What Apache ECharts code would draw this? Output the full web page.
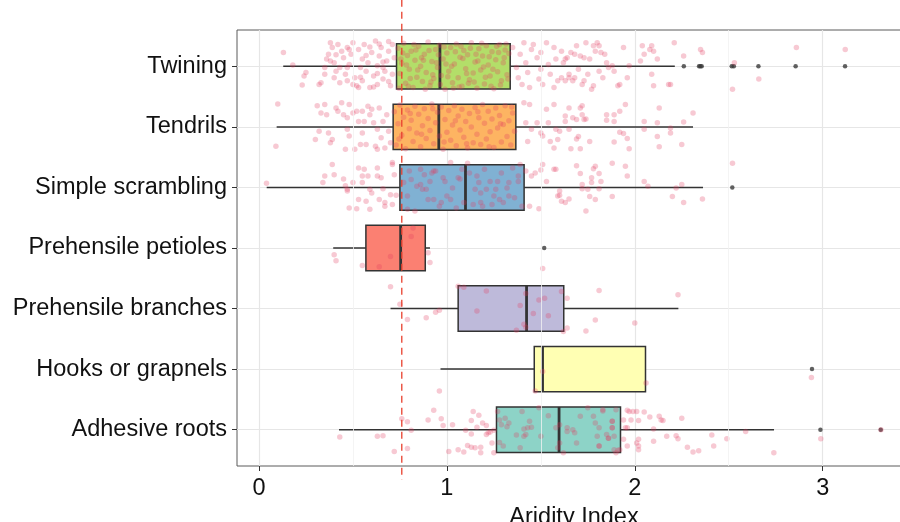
<!DOCTYPE html>
<html>
<head>
<meta charset="utf-8">
<script src="https://cdn.jsdelivr.net/npm/echarts@6/dist/echarts.min.js"></script>
<style>
  html, body { margin: 0; padding: 0; background: #fff; }
  #chart { width: 900px; height: 522px; }
</style>
</head>
<body>
<div id="chart"></div>
<script>
// categories from bottom (1) to top (7)
const categories = ['Adhesive roots', 'Hooks or grapnels', 'Prehensile branches', 'Prehensile petioles', 'Simple scrambling', 'Tendrils', 'Twining'];
const boxLow    = [0.426, 0.966, 0.700, 0.395, 0.041, 0.094, 0.129];
const boxQ1     = [1.264, 1.465, 1.060, 0.569, 0.750, 0.714, 0.732];
const boxMedian = [1.597, 1.509, 1.424, 0.754, 1.099, 0.957, 0.963];
const boxQ3     = [1.924, 2.057, 1.622, 0.885, 1.411, 1.367, 1.337];
const boxHigh   = [2.741, 2.057, 2.232, 0.910, 2.363, 2.310, 2.213];
const boxColors = ['#8DD3C7', '#FFFFB3', '#BEBADA', '#FB8072', '#80B1D3', '#FDB462', '#B3DE69'];

// [category index, value]
const outliers = [
    [0, 2.988], [0, 3.309], [1, 2.943], [3, 1.518], [4, 2.519],
    [6, 2.261], [6, 2.342], [6, 2.349], [6, 2.356], [6, 2.516], [6, 2.527], [6, 2.658], [6, 2.856], [6, 3.119]
];

const aridityThreshold = 0.76;
const xTicks = [0, 1, 2, 3];
const xMinorTicks = [0.5, 1.5, 2.5];
const yTicks = [1, 2, 3, 4, 5, 6, 7];

// jittered observations: [aridity, vertical jitter]
const adhesivePts = [
    [0.43,-0.12],[0.63,-0.11],[0.66,-0.10],[0.72,-0.36],[0.76,0.18],[0.79,-0.31],[0.79,0.13],[0.81,-0.01],[0.90,0.16],[0.93,0.32],
    [0.97,0.18],[0.98,0.07],[1.01,-0.36],[1.03,0.08],[1.06,-0.33],[1.09,-0.37],[1.10,-0.01],[1.11,-0.26],[1.13,0.15],[1.13,-0.29],
    [1.13,-0.07],[1.14,0.30],[1.15,-0.30],[1.16,0.04],[1.17,0.24],[1.18,-0.38],[1.18,-0.29],[1.19,0.11],[1.21,0.07],[1.21,-0.08],
    [1.22,-0.05],[1.23,-0.04],[1.24,-0.22],[1.25,-0.01],[1.25,-0.38],[1.27,0.30],[1.28,0.16],[1.28,-0.21],[1.29,0.08],[1.31,0.19],
    [1.32,0.05],[1.33,0.11],[1.37,-0.09],[1.40,0.30],[1.41,0.01],[1.41,-0.11],[1.42,-0.08],[1.43,0.03],[1.44,0.14],[1.45,0.04],
    [1.49,0.36],[1.50,-0.11],[1.54,0.23],[1.58,0.03],[1.59,-0.30],[1.60,0.08],[1.60,-0.22],[1.62,-0.38],[1.64,0.03],[1.64,-0.03],
    [1.67,0.00],[1.68,-0.05],[1.69,-0.22],[1.71,0.22],[1.75,0.36],[1.78,0.22],[1.79,0.11],[1.80,-0.11],[1.81,-0.27],[1.83,0.33],
    [1.85,-0.08],[1.86,-0.14],[1.88,0.03],[1.88,0.14],[1.89,-0.33],[1.90,0.33],[1.91,-0.34],[1.39,-0.30],[1.30,-0.27],
    [1.83,0.31],[1.81,0.03],[1.88,0.14],[1.88,0.03],[1.86,-0.14],[1.89,-0.11],[1.81,-0.27],[1.92,-0.33],[1.90,-0.38],[1.94,0.16],
    [1.95,0.03],[1.96,0.32],[1.96,0.03],[1.97,0.30],[1.98,0.16],[1.99,0.30],[2.01,0.30],[2.02,0.15],[2.01,-0.22],[2.02,-0.27],
    [2.02,-0.16],[2.02,-0.33],[2.05,0.29],[2.08,0.21],[2.10,0.01],[2.10,-0.19],[2.13,0.22],[2.14,0.16],[2.15,0.15],[2.17,-0.11],
    [2.22,-0.10],[2.23,-0.15],[2.25,0.19],[2.28,-0.29],[2.31,-0.37],[2.34,-0.35],[2.41,-0.09],[2.42,-0.27],[2.49,-0.15],[2.59,-0.03],
    [2.74,-0.38],[2.99,-0.15],[1.94,-0.16],[1.96,-0.27],[3.31,0.00]
];
const hooksPts = [[0.96,-0.36],[1.47,-0.36],[1.51,-0.04],[2.06,-0.23],[2.94,-0.14]];
const branchesPts = [
    [0.70,0.36],[0.75,0.07],[0.79,-0.18],[0.89,-0.15],[0.94,-0.06],[0.96,-0.03],[1.06,0.37],[1.09,0.35],[1.21,0.29],[1.16,-0.04],
    [1.39,0.05],[1.37,-0.36],[1.41,-0.26],[1.42,-0.31],[1.42,0.25],[1.46,-0.08],[1.49,0.14],[1.52,0.17],[1.54,-0.12],[1.61,0.28],
    [1.64,0.17],[1.62,-0.38],[1.64,-0.32],[1.74,-0.37],[1.79,-0.19],[1.81,0.30],[2.00,-0.24],[2.23,0.23]
];
const petiolesPts = [[0.40,-0.11],[0.41,-0.21],[0.55,-0.29],[0.64,-0.31],[0.70,-0.14],[0.81,0.19],[0.82,0.33],[0.90,-0.08],[0.91,-0.24],[1.51,-0.34]];
const scramblingPts = [
    [0.04,0.07],[0.34,0.08],[0.35,0.19],[0.39,0.38],[0.40,0.21],[0.45,0.14],[0.46,0.03],[0.47,-0.03],[0.47,-0.06],[0.48,-0.34],
    [0.50,0.08],[0.52,-0.35],[0.53,-0.20],[0.53,0.32],[0.55,0.19],[0.55,0.08],[0.56,0.30],[0.57,-0.23],[0.58,0.19],[0.59,-0.03],
    [0.59,-0.36],[0.60,-0.09],[0.63,0.32],[0.63,0.19],[0.64,-0.20],[0.65,0.16],[0.66,-0.02],[0.67,-0.25],[0.67,-0.31],[0.70,-0.12],
    [0.71,-0.28],[0.71,0.38],[0.71,0.41],[0.72,0.21],[0.73,-0.13],
    [0.77,0.08],[0.79,-0.36],[0.79,-0.14],[0.80,0.27],[0.81,0.13],[0.83,-0.39],[0.84,0.02],[0.86,0.05],[0.86,0.30],[0.87,-0.03],
    [0.88,0.21],[0.89,-0.03],[0.90,-0.20],[0.91,0.10],[0.92,0.24],[0.93,0.27],[0.93,-0.20],[0.94,0.27],[0.96,-0.31],[0.97,-0.25],
    [0.98,0.16],[0.99,0.10],[1.00,-0.14],[1.02,-0.20],[1.02,0.41],[1.03,-0.01],[1.05,-0.34],[1.06,0.16],[1.07,0.14],[1.08,0.30],
    [1.09,-0.25],[1.11,0.40],[1.12,0.24],[1.14,-0.28],[1.15,-0.03],[1.16,0.19],[1.17,0.08],[1.18,-0.25],[1.18,-0.09],[1.19,-0.31],
    [1.20,0.30],[1.21,-0.03],[1.23,0.10],[1.24,-0.28],[1.25,-0.14],[1.26,-0.03],[1.27,0.10],[1.28,-0.20],[1.29,0.24],[1.30,-0.25],
    [1.32,-0.01],[1.33,-0.14],[1.33,0.08],[1.35,0.32],[1.36,-0.17],[1.38,0.19],[1.38,0.10],[1.39,0.38],[1.40,-0.31],
    [1.42,0.27],[1.44,-0.31],[1.45,0.19],[1.47,0.24],[1.49,-0.35],[1.50,0.29],[1.51,0.38],[1.53,0.10],[1.57,0.30],[1.58,0.30],
    [1.59,-0.14],[1.60,-0.06],[1.60,-0.13],[1.61,-0.23],[1.63,-0.25],[1.65,-0.19],[1.69,0.36],[1.71,0.23],[1.72,0.05],[1.72,-0.02],
    [1.74,-0.39],[1.75,-0.03],[1.76,-0.15],[1.77,0.16],[1.77,0.08],[1.78,0.31],[1.79,0.35],[1.79,-0.20],[1.81,-0.02],[1.81,0.23],
    [1.82,0.10],[1.88,-0.15],[1.88,0.40],[1.95,0.35],[1.96,0.19],[2.05,0.10],[2.07,0.02],[2.20,-0.15],[2.22,-0.01],[2.25,0.05],
    [2.26,-0.25],[2.36,-0.19],[2.52,0.40]
];
const tendrilsPts = [
    [0.10,0.38],[0.09,-0.32],[0.30,-0.21],[0.31,0.35],[0.32,-0.07],[0.33,0.23],[0.35,0.37],[0.36,0.20],[0.37,-0.10],[0.38,-0.26],
    [0.39,-0.21],[0.41,0.31],[0.42,0.26],[0.44,0.40],[0.45,0.20],[0.46,-0.37],[0.47,0.15],[0.47,-0.04],[0.48,0.37],[0.48,-0.15],
    [0.50,0.23],[0.51,-0.37],[0.52,0.26],[0.53,0.09],[0.54,-0.29],[0.55,0.26],[0.55,-0.10],[0.56,0.09],[0.57,-0.29],[0.58,0.34],
    [0.59,0.20],[0.60,0.29],[0.61,0.07],[0.62,-0.32],[0.63,-0.37],[0.63,-0.04],[0.64,0.31],[0.65,-0.18],[0.66,0.09],[0.67,-0.35],
    [0.68,0.20],[0.69,-0.07],[0.70,-0.26],
    [0.72,0.25],[0.73,-0.30],[0.74,0.05],[0.75,0.36],[0.76,-0.14],[0.77,0.16],[0.78,-0.36],[0.79,0.28],[0.80,-0.03],[0.81,0.11],
    [0.82,-0.24],[0.83,0.34],[0.84,-0.10],[0.85,0.21],[0.86,-0.33],[0.87,0.02],[0.88,0.30],[0.89,-0.19],[0.90,0.14],[0.91,-0.06],
    [0.92,0.38],[0.93,-0.28],[0.94,0.07],[0.95,0.24],[0.96,-0.15],[0.97,0.33],[0.98,-0.37],[0.99,0.12],[1.00,-0.09],[1.01,0.27],
    [1.02,-0.22],[1.03,0.03],[1.04,0.35],[1.05,-0.31],[1.06,0.18],[1.07,-0.05],[1.08,0.29],[1.09,-0.17],[1.10,0.09],[1.11,-0.35],
    [1.12,0.22],[1.13,0.00],[1.14,-0.26],[1.15,0.32],[1.16,-0.12],[1.17,0.15],[1.18,-0.29],[1.19,0.37],[1.20,0.06],[1.21,-0.20],
    [1.22,0.26],[1.23,-0.08],[1.24,0.13],[1.25,-0.34],[1.26,0.31],[1.27,-0.02],[1.28,0.19],[1.29,-0.25],[1.30,0.04],[1.31,0.35],
    [1.32,-0.16],[1.33,0.10],[1.34,-0.30],[1.35,0.23],[1.36,-0.07],
    [0.745,-0.20],[0.805,0.22],[0.865,-0.12],[0.925,0.30],[0.985,-0.25],[1.045,0.10],[1.105,-0.28],[1.165,0.25],[1.225,-0.33],[1.285,0.05],[1.345,0.33],
    [1.41,0.40],[1.42,0.07],[1.43,-0.24],[1.44,0.37],[1.45,-0.04],[1.48,0.07],[1.50,-0.10],[1.51,-0.15],[1.53,0.29],[1.54,0.07],
    [1.55,-0.24],[1.57,-0.35],[1.57,0.37],[1.58,-0.04],[1.59,-0.21],
    [1.60,-0.07],[1.63,0.18],[1.63,0.09],[1.65,-0.04],[1.65,0.31],[1.67,0.15],[1.69,0.12],[1.69,-0.20],[1.70,-0.16],[1.66,-0.36],
    [1.71,-0.36],[1.71,0.31],[1.72,0.35],[1.72,0.20],[1.73,0.12],[1.74,0.13],[1.76,-0.24],[1.85,0.20],[1.85,0.11],[1.89,0.20],
    [1.89,0.09],[1.89,-0.25],[1.92,0.26],[1.92,-0.09],[1.94,-0.11],[1.95,0.37],[1.96,-0.19],[1.97,-0.36],[2.05,0.09],[2.05,-0.04],
    [2.12,0.07],[2.12,-0.16],[2.13,0.31],[2.13,-0.33],[2.19,-0.02],[2.19,-0.10],[2.25,-0.29],[2.26,0.08],[2.31,0.23]
];
const twiningPts = [
    [0.13,0.23],[0.18,0.02],[0.23,-0.31],[0.24,-0.16],[0.25,-0.10],[0.32,-0.30],[0.33,-0.27],[0.35,-0.02],[0.36,0.12],[0.37,0.20],
    [0.38,0.39],[0.39,0.31],[0.40,-0.19],[0.40,0.06],[0.41,-0.08],[0.42,0.36],[0.43,-0.27],[0.44,0.25],[0.45,0.14],[0.46,-0.13],
    [0.47,0.31],[0.47,-0.24],[0.48,0.03],[0.49,0.20],[0.50,0.39],[0.51,-0.19],[0.52,-0.32],[0.53,0.28],[0.54,-0.02],[0.55,0.12],
    [0.55,-0.24],[0.56,0.36],[0.57,-0.08],[0.58,0.06],[0.59,-0.35],[0.60,0.23],[0.61,-0.16],[0.62,0.42],[0.63,0.01],[0.63,-0.30],
    [0.64,0.17],[0.65,0.31],[0.66,-0.21],[0.67,-0.08],[0.68,0.09],[0.69,0.25],[0.70,-0.32],[0.71,0.36],[0.71,-0.13],[0.72,0.14],
    [0.38,0.09],[0.41,0.19],[0.47,-0.02],[0.50,-0.30],[0.54,-0.18],[0.57,0.18],[0.61,-0.34],[0.64,0.37],[0.66,-0.02],[0.69,-0.25],
    [0.35,-0.13],[0.43,-0.02],[0.48,0.28],[0.53,-0.35],[0.59,0.32],[0.63,-0.12],[0.66,0.07],[0.69,0.41],
    [0.74,0.30],[0.75,-0.12],[0.76,0.05],[0.77,0.38],[0.78,-0.28],[0.79,0.18],[0.80,-0.05],[0.81,0.25],[0.82,-0.35],[0.83,0.10],
    [0.84,-0.18],[0.85,0.33],[0.86,0.00],[0.87,-0.25],[0.88,0.20],[0.89,-0.10],[0.90,0.40],[0.91,-0.32],[0.92,0.08],[0.93,-0.20],
    [0.94,0.28],[0.95,-0.02],[0.96,0.35],[0.97,-0.15],[0.98,0.12],[0.99,-0.38],[1.00,0.22],[1.01,-0.08],[1.02,0.31],[1.03,-0.27],
    [1.04,0.04],[1.05,0.37],[1.06,-0.19],[1.07,0.15],[1.08,-0.33],[1.09,0.26],[1.10,-0.04],[1.11,0.19],[1.12,-0.22],[1.13,0.39],
    [1.14,-0.11],[1.15,0.07],[1.16,-0.36],[1.17,0.29],[1.18,-0.06],[1.19,0.17],[1.20,-0.29],[1.21,0.34],[1.22,0.02],[1.23,-0.16],
    [1.24,0.24],[1.25,-0.37],[1.26,0.11],[1.27,-0.09],[1.28,0.36],[1.29,-0.24],[1.30,0.06],[1.31,0.27],[1.32,-0.14],[1.33,0.21],
    [0.745,-0.36],[0.765,0.22],[0.785,0.02],[0.805,-0.20],[0.825,0.36],[0.845,-0.06],[0.865,0.14],[0.885,-0.38],[0.905,0.26],[0.925,-0.14],
    [0.945,0.06],[0.965,-0.30],[0.985,0.32],[1.005,-0.17],[1.025,0.00],[1.045,0.24],[1.065,-0.34],[1.085,0.13],[1.105,-0.12],[1.125,0.30],
    [1.145,-0.26],[1.165,0.09],[1.185,0.38],[1.205,-0.18],[1.225,0.16],[1.245,-0.05],[1.265,0.33],[1.285,-0.31],[1.305,0.14],[1.325,-0.21],
    [0.755,0.12],[0.795,-0.33],[0.835,0.27],[0.875,0.10],[0.915,-0.26],[0.955,0.19],[0.995,0.04],[1.035,-0.36],[1.075,0.33],[1.115,-0.28],
    [1.155,0.20],[1.195,-0.01],[1.235,-0.33],[1.275,0.23],[1.315,0.37],
    [1.35,0.31],[1.37,-0.02],[1.38,-0.19],[1.39,0.20],[1.40,-0.30],[1.41,0.39],[1.42,0.06],[1.43,-0.10],[1.44,-0.35],[1.45,0.28],
    [1.46,0.36],[1.48,0.14],[1.49,-0.21],[1.50,-0.05],[1.50,0.23],[1.51,-0.30],[1.53,0.39],[1.54,0.03],[1.55,-0.13],[1.57,0.31],
    [1.57,-0.35],[1.58,0.12],[1.59,-0.24],
    [1.61,0.25],[1.62,0.06],[1.63,0.12],[1.64,0.14],[1.65,-0.13],[1.65,-0.19],[1.66,0.23],[1.67,-0.24],[1.68,0.20],[1.69,0.34],
    [1.70,-0.05],[1.71,0.17],[1.72,-0.30],[1.73,-0.24],[1.73,0.14],[1.74,0.39],[1.75,-0.13],[1.76,0.12],[1.77,-0.38],[1.78,-0.32],
    [1.78,0.34],[1.79,0.25],[1.80,0.39],[1.81,-0.08],[1.81,0.34],[1.82,0.23],[1.83,-0.19],[1.84,0.20],[1.85,0.06],[1.86,-0.02],
    [1.88,0.01],[1.89,-0.08],[1.91,-0.32],[1.92,-0.30],[1.94,0.31],[1.96,-0.19],[1.97,0.01],[2.03,0.09],[2.04,0.34],[2.05,0.20],
    [2.08,0.28],[2.09,0.34],[2.10,0.25],[2.09,-0.13],[2.10,-0.32],[2.12,0.12],[2.18,-0.30],[2.19,-0.30],[2.21,0.39],[2.26,0.17],
    [2.35,0.28],[2.36,0.23],[2.53,0.06],[2.52,-0.38],[2.66,-0.21],[2.86,0.31],[3.12,0.28],[1.61,-0.19],[1.63,-0.24],[1.68,-0.19]
];
const jitterByCategory = [adhesivePts, hooksPts, branchesPts, petiolesPts, scramblingPts, tendrilsPts, twiningPts];

const FONT = "'Liberation Sans', Arial, Helvetica, sans-serif";
const chart = echarts.init(document.getElementById('chart'));

const boxData = categories.map((c, i) => [i + 1, boxLow[i], boxQ1[i], boxMedian[i], boxQ3[i], boxHigh[i]]);
const jitterData = [];
jitterByCategory.forEach((pts, i) => pts.forEach(p => jitterData.push([p[0], i + 1 + p[1]])));
const outlierData = outliers.map(o => [o[1], o[0] + 1]);

chart.setOption({
    animation: false,
    grid: { left: 237, top: 30, width: 674, height: 436, show: true, borderColor: '#5a5a5a', borderWidth: 1, containLabel: false, outerBoundsMode: 'none' },
    xAxis: {
        type: 'value', min: -0.117, max: 3.47, minInterval: 1, maxInterval: 1,
        name: 'Aridity Index', nameLocation: 'middle', nameGap: 34,
        nameTextStyle: { fontFamily: FONT, fontSize: 23.5, color: '#111' },
        axisLine: { show: false, onZero: false },
        axisTick: { show: true, inside: false, length: 5, customValues: xTicks, lineStyle: { color: '#333', width: 1 } },
        axisLabel: { customValues: xTicks, margin: 11, fontFamily: FONT, fontSize: 23.5, color: '#111' },
        splitLine: { show: true, lineStyle: { color: '#e6e6e6', width: 1.2 } }
    },
    yAxis: {
        type: 'value', min: 0.4, max: 7.6, minInterval: 1, maxInterval: 1,
        axisLine: { show: false, onZero: false },
        axisTick: { show: true, inside: false, length: 5, customValues: yTicks, lineStyle: { color: '#333', width: 1 } },
        axisLabel: {
            customValues: yTicks, margin: 10,
            fontFamily: FONT, fontSize: 23.5, color: '#111',
            formatter: v => categories[Math.round(v) - 1] || ''
        },
        splitLine: { show: true, lineStyle: { color: '#e6e6e6', width: 1.2 } }
    },
    series: [
        {
            // minor vertical grid lines
            type: 'line', data: [], z: 1, silent: true,
            markLine: {
                silent: true, symbol: 'none', label: { show: false },
                lineStyle: { type: 'solid', color: '#f1f1f1', width: 0.8 },
                data: xMinorTicks.map(v => ({ xAxis: v }))
            }
        },
        {
            type: 'custom', z: 2,
            encode: { x: [1, 2, 3, 4, 5], y: 0 },
            data: boxData,
            renderItem: (params, api) => {
                const y = api.value(0);
                const lo = api.coord([api.value(1), y]);
                const q1 = api.coord([api.value(2), y]);
                const md = api.coord([api.value(3), y]);
                const q3 = api.coord([api.value(4), y]);
                const hi = api.coord([api.value(5), y]);
                const h = api.size([0, 0.75])[1];
                const top = lo[1] - h / 2;
                const stroke = '#333';
                return {
                    type: 'group',
                    children: [
                        { type: 'line', shape: { x1: lo[0], y1: lo[1], x2: q1[0], y2: q1[1] }, style: { stroke, lineWidth: 1.5 } },
                        { type: 'line', shape: { x1: q3[0], y1: q3[1], x2: hi[0], y2: hi[1] }, style: { stroke, lineWidth: 1.5 } },
                        { type: 'rect', shape: { x: q1[0], y: top, width: q3[0] - q1[0], height: h }, style: { fill: boxColors[params.dataIndex], stroke, lineWidth: 1.5 } },
                        { type: 'line', shape: { x1: md[0], y1: top, x2: md[0], y2: top + h }, style: { stroke, lineWidth: 2.8 } }
                    ]
                };
            }
        },
        {
            type: 'scatter', z: 3, data: outlierData, symbolSize: 4.5,
            itemStyle: { color: '#3a3a3a' }, silent: true
        },
        {
            type: 'scatter', z: 4, data: jitterData, symbolSize: 5.5,
            itemStyle: { color: 'rgba(226, 60, 95, 0.34)' }, silent: true
        },
        {
            // reference aridity threshold, runs past the panel like the original
            type: 'custom', z: 5, clip: false, silent: true,
            encode: { x: 0 },
            data: [[aridityThreshold]],
            renderItem: (params, api) => {
                const a = api.coord([api.value(0), 8.1]);
                const b = api.coord([api.value(0), 0.17]);
                return {
                    type: 'line',
                    shape: { x1: a[0], y1: a[1], x2: b[0], y2: b[1] },
                    style: { stroke: '#e8402e', lineWidth: 1.3, lineDash: [7, 5] }
                };
            }
        }
    ]
});
</script>
</body>
</html>
